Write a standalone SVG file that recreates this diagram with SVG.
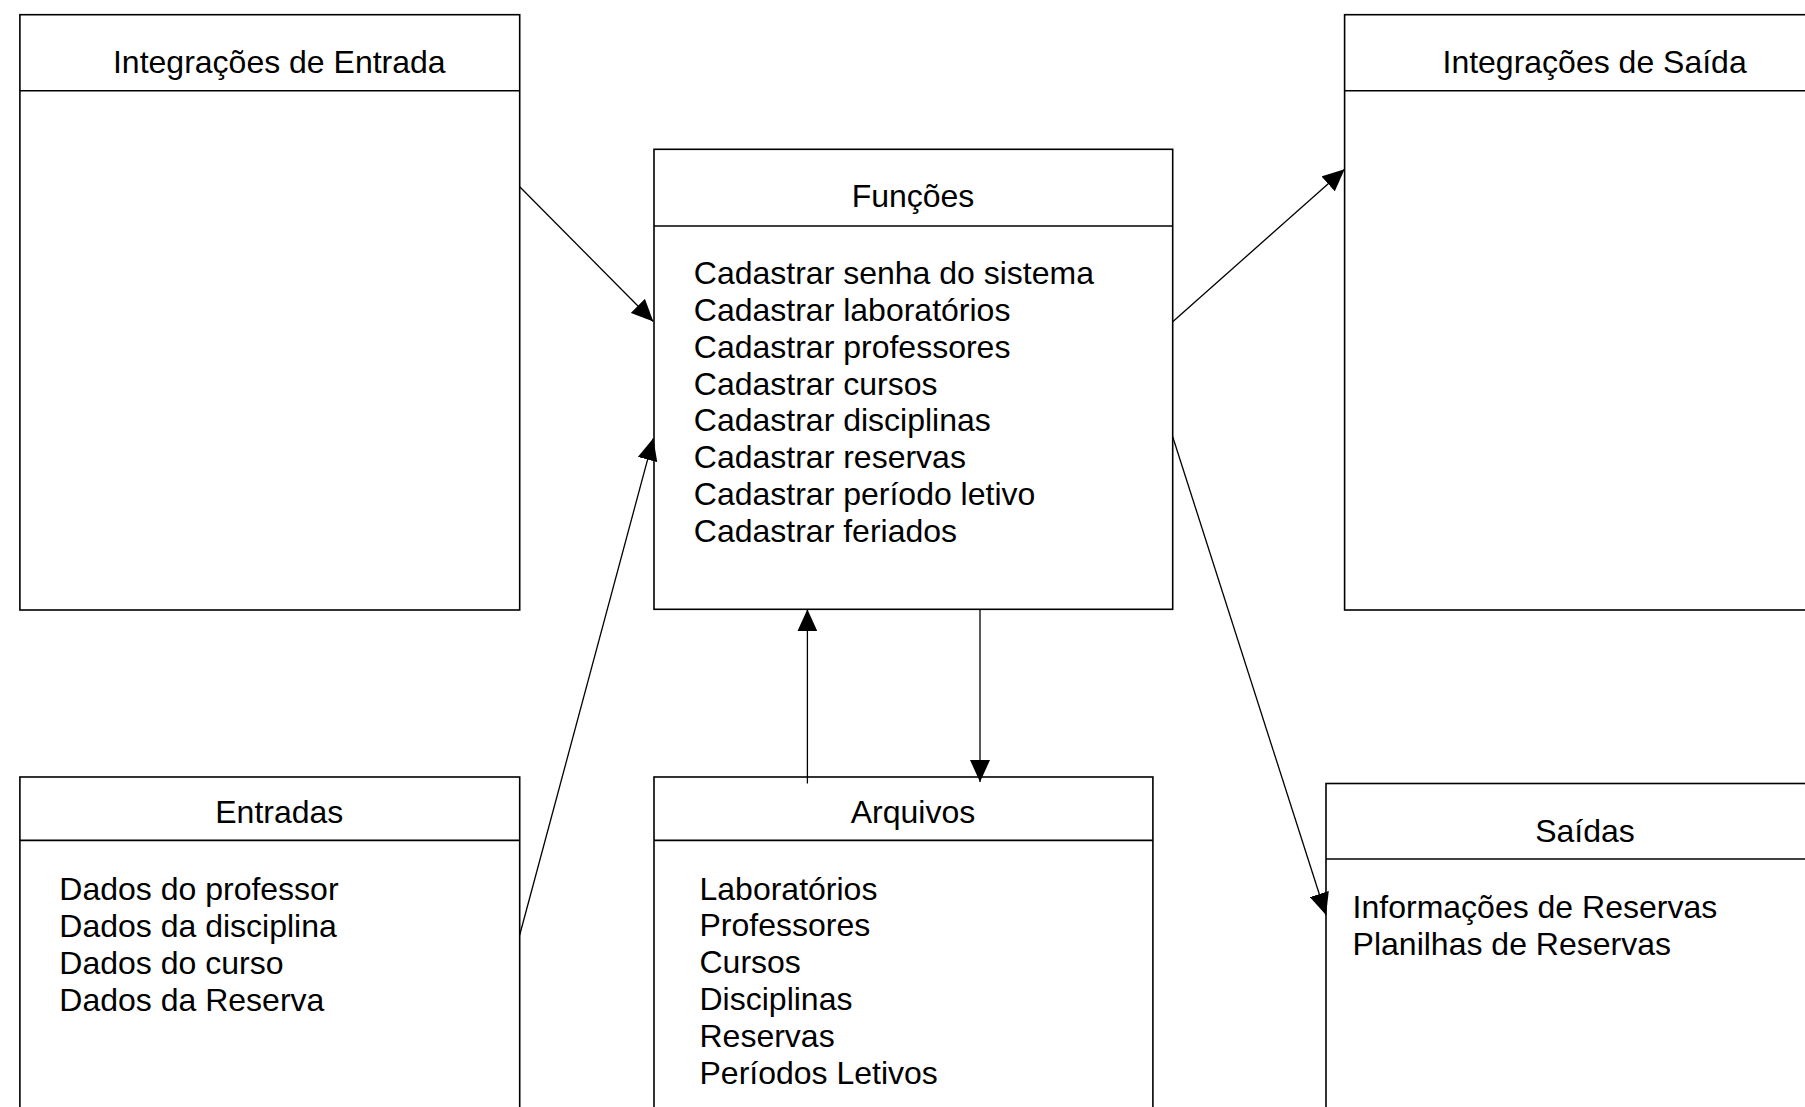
<svg xmlns="http://www.w3.org/2000/svg" width="1805" height="1107" viewBox="0 0 1805 1107">
  <style>
    .box { fill: #ffffff; stroke: #000000; stroke-width: 1.6; }
    .sep { stroke: #000000; stroke-width: 1.6; }
    .title { font-family: "Liberation Sans", Arial, sans-serif; font-size: 32px; fill: #000000; text-anchor: middle; }
    .item { font-family: "Liberation Sans", Arial, sans-serif; font-size: 32px; fill: #000000; }
    .conn { fill: none; stroke: #000000; stroke-width: 1.3; marker-end: url(#arrow); }
  </style>
  <defs>
    <marker id="arrow" markerUnits="userSpaceOnUse" viewBox="0 0 22 20" refX="22" refY="10" markerWidth="22" markerHeight="20" orient="auto">
      <path d="M0,0 L22,10 L0,20 Z" fill="#000000"/>
    </marker>
  </defs>
  <rect width="1805" height="1107" fill="#ffffff"/>

  <!-- Integrações de Entrada -->
  <g id="integracoes-entrada">
    <rect class="box" x="19.9" y="14.7" width="499.8" height="595.3"/>
    <line class="sep" x1="19.9" y1="90.7" x2="519.7" y2="90.7"/>
    <text class="title" x="279.3" y="72.7">Integrações de Entrada</text>
  </g>

  <!-- Funções -->
  <g id="funcoes">
    <rect class="box" x="654" y="149.3" width="518.7" height="460"/>
    <line class="sep" x1="654" y1="226" x2="1172.7" y2="226"/>
    <text class="title" x="913" y="207.3">Funções</text>
    <text class="item" x="693.8" y="284">Cadastrar senha do sistema</text>
    <text class="item" x="693.8" y="320.85">Cadastrar laboratórios</text>
    <text class="item" x="693.8" y="357.7">Cadastrar professores</text>
    <text class="item" x="693.8" y="394.55">Cadastrar cursos</text>
    <text class="item" x="693.8" y="431.4">Cadastrar disciplinas</text>
    <text class="item" x="693.8" y="468.25">Cadastrar reservas</text>
    <text class="item" x="693.8" y="505.1">Cadastrar período letivo</text>
    <text class="item" x="693.8" y="541.95">Cadastrar feriados</text>
  </g>

  <!-- Integrações de Saída -->
  <g id="integracoes-saida">
    <rect class="box" x="1344.6" y="14.7" width="500" height="595.3"/>
    <line class="sep" x1="1344.6" y1="90.7" x2="1844.6" y2="90.7"/>
    <text class="title" x="1594.6" y="72.7">Integrações de Saída</text>
  </g>

  <!-- Entradas -->
  <g id="entradas">
    <rect class="box" x="19.9" y="777" width="499.8" height="400"/>
    <line class="sep" x1="19.9" y1="840.4" x2="519.7" y2="840.4"/>
    <text class="title" x="279.3" y="822.7">Entradas</text>
    <text class="item" x="59.3" y="900.3">Dados do professor</text>
    <text class="item" x="59.3" y="937.1">Dados da disciplina</text>
    <text class="item" x="59.3" y="973.9">Dados do curso</text>
    <text class="item" x="59.3" y="1010.7">Dados da Reserva</text>
  </g>

  <!-- Arquivos -->
  <g id="arquivos">
    <rect class="box" x="654" y="777" width="498.9" height="400"/>
    <line class="sep" x1="654" y1="840.4" x2="1152.9" y2="840.4"/>
    <text class="title" x="913" y="822.8">Arquivos</text>
    <text class="item" x="699.5" y="899.5">Laboratórios</text>
    <text class="item" x="699.5" y="936.3">Professores</text>
    <text class="item" x="699.5" y="973.1">Cursos</text>
    <text class="item" x="699.5" y="1009.9">Disciplinas</text>
    <text class="item" x="699.5" y="1046.7">Reservas</text>
    <text class="item" x="699.5" y="1083.5">Períodos Letivos</text>
  </g>

  <!-- Saídas -->
  <g id="saidas">
    <rect class="box" x="1326" y="783.5" width="520" height="400"/>
    <line class="sep" x1="1326" y1="859" x2="1846" y2="859"/>
    <text class="title" x="1585" y="841.5">Saídas</text>
    <text class="item" x="1352.6" y="918">Informações de Reservas</text>
    <text class="item" x="1352.6" y="954.8">Planilhas de Reservas</text>
  </g>

  <!-- Connectors -->
  <g id="connectors">
    <line class="conn" x1="519.7" y1="186.7" x2="653.3" y2="321.5"/>
    <line class="conn" x1="519.7" y1="935" x2="653.3" y2="438.3"/>
    <line class="conn" x1="1172.7" y1="321.7" x2="1344.6" y2="169.3"/>
    <line class="conn" x1="1172.7" y1="436.7" x2="1326" y2="915"/>
    <line class="conn" x1="807.4" y1="783.5" x2="807.4" y2="609.3"/>
    <line class="conn" x1="980" y1="609.3" x2="980" y2="782"/>
  </g>
</svg>
